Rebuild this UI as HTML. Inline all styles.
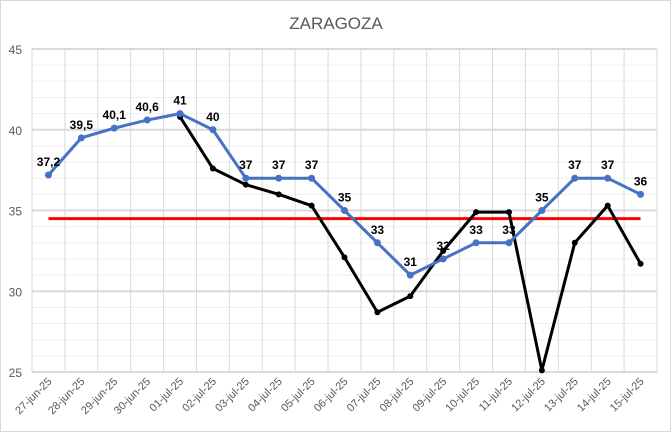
<!DOCTYPE html>
<html><head><meta charset="utf-8"><style>
html,body{margin:0;padding:0;background:#fff;}
svg{display:block;font-family:"Liberation Sans",sans-serif;}
</style></head><body>
<svg id="chart" width="672" height="433">
<rect x="0.5" y="0.5" width="670" height="431" fill="#fff" stroke="#d9d9d9"/>
<text x="336" y="29" text-anchor="middle" font-size="17" fill="#595959">ZARAGOZA</text>
<g id="grid"></g><g id="axes"></g><g id="series"></g><g id="labels"></g>
</svg>
<script>
const categories=["27-jun-25","28-jun-25","29-jun-25","30-jun-25","01-jul-25","02-jul-25","03-jul-25","04-jul-25","05-jul-25","06-jul-25","07-jul-25","08-jul-25","09-jul-25","10-jul-25","11-jul-25","12-jul-25","13-jul-25","14-jul-25","15-jul-25"];
const blueValues=[37.2,39.5,40.1,40.6,41,40,37,37,37,35,33,31,32,33,33,35,37,37,36];
const blueLabels=["37,2","39,5","40,1","40,6","41","40","37","37","37","35","33","31","32","33","33","35","37","37","36"];
const blackValues=[null,null,null,null,40.8,37.6,36.6,36.0,35.3,32.1,28.7,29.7,32.5,34.9,34.9,25.1,33.0,35.3,31.7];
const thresholdValue=34.5;
const yTicks=[25,30,35,40,45];

const NS="http://www.w3.org/2000/svg";
const L=32,R=657,T=49,B=372,yMin=25,yMax=45;
const bw=(R-L)/categories.length;
const x=i=>L+bw*(i+0.5);
const y=v=>B-(v-yMin)/(yMax-yMin)*(B-T);
function mk(tag,attrs,parent){const e=document.createElementNS(NS,tag);for(const k in attrs)e.setAttribute(k,attrs[k]);parent.appendChild(e);return e;}
const grid=document.getElementById('grid'),axes=document.getElementById('axes'),ser=document.getElementById('series'),lab=document.getElementById('labels');
for(let v=yMin;v<=yMax;v++){
  const major=v%5===0;
  const ln=mk('line',{x1:L,x2:R,y1:y(v),y2:y(v),stroke:major?'#d9d9d9':'#efefef','stroke-width':major?2:1},grid);
  
  
}
for(let i=0;i<=categories.length;i++){
  const ln=mk('line',{x1:L+bw*i,x2:L+bw*i,y1:T,y2:B,stroke:'#d9d9d9','stroke-width':1},grid);
  
  
}
yTicks.forEach(v=>{
  const t=mk('text',{x:22,y:y(v)+5,'text-anchor':'end','font-size':12,fill:'#595959'},axes);
  t.textContent=v;
  
  
});
categories.forEach((c,i)=>{
  const t=mk('text',{x:x(i)+4,y:B+10,'text-anchor':'end','font-size':11,fill:'#595959',transform:`rotate(-45 ${x(i)+4} ${B+10})`},axes);
  t.textContent=c;
  
  
});
// threshold
const th=mk('line',{x1:x(0),x2:x(categories.length-1),y1:y(thresholdValue),y2:y(thresholdValue),stroke:'#ff0000','stroke-width':3},ser);


// black series
let pts=[];blackValues.forEach((v,i)=>{if(v!==null)pts.push(x(i)+','+y(v));});
const bl=mk('polyline',{points:pts.join(' '),fill:'none',stroke:'#000','stroke-width':3,'stroke-linejoin':'round'},ser);


blackValues.forEach((v,i)=>{if(v===null)return;
  const c=mk('circle',{cx:x(i),cy:y(v),r:3,fill:'#000'},ser);
  
  
});
// blue series
const bp=mk('polyline',{points:blueValues.map((v,i)=>x(i)+','+y(v)).join(' '),fill:'none',stroke:'#4472c4','stroke-width':3,'stroke-linejoin':'round'},ser);


blueValues.forEach((v,i)=>{
  const c=mk('circle',{cx:x(i),cy:y(v),r:3.5,fill:'#4472c4'},ser);
  
  
  const t=mk('text',{x:x(i),y:y(v)-9,'text-anchor':'middle','font-size':12,'font-weight':'bold',fill:'#000'},lab);
  t.textContent=blueLabels[i];
  
  
});
</script>
</body></html>
